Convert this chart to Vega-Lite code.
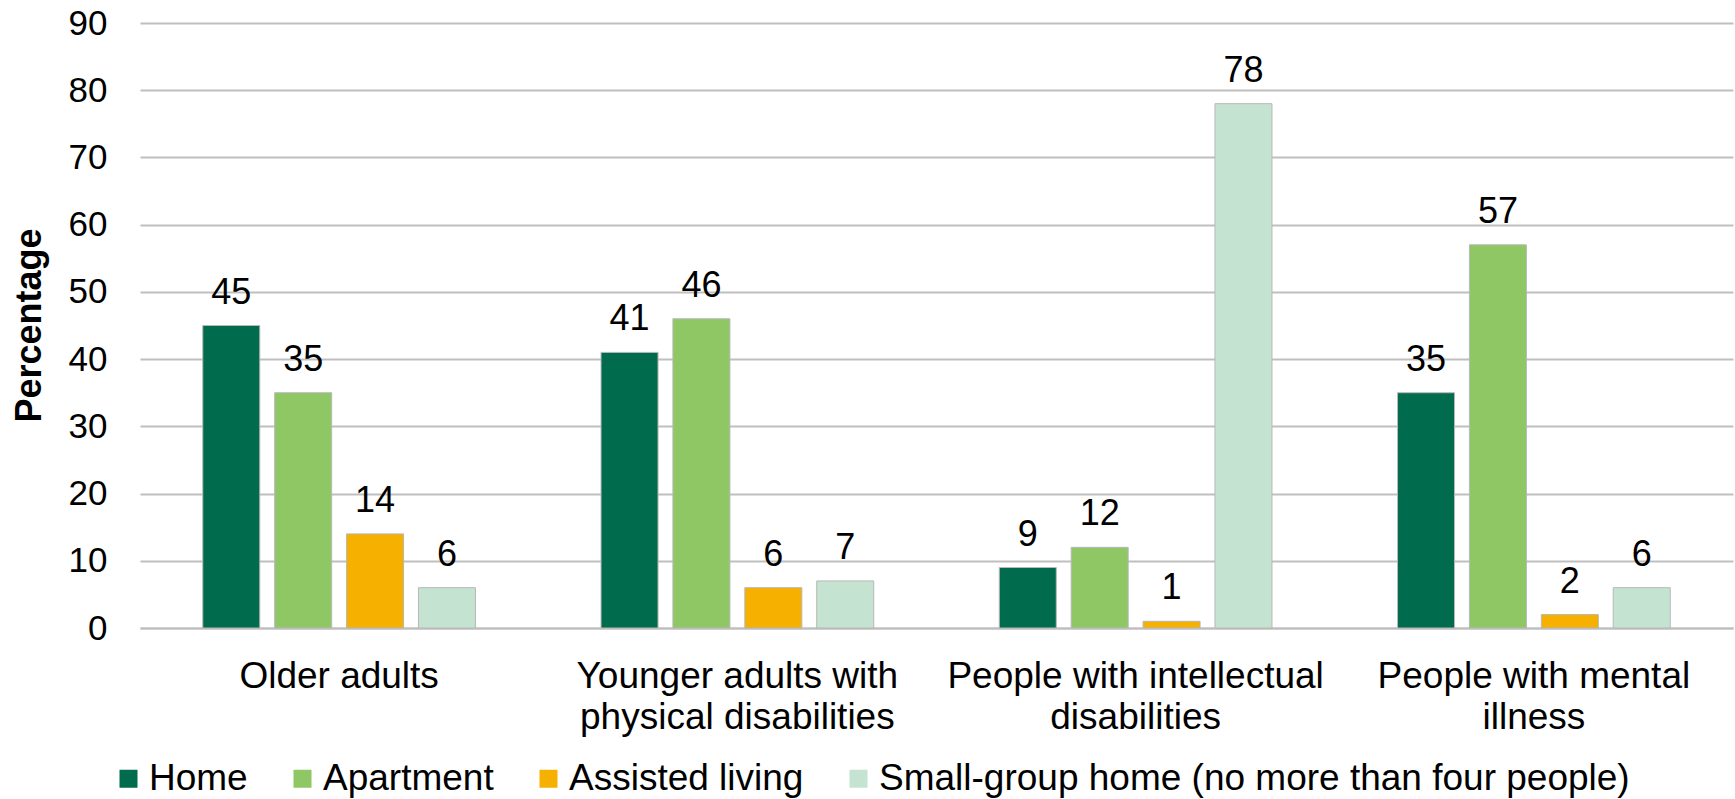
{
  "$schema": "https://vega.github.io/schema/vega-lite/v6.json",
  "width": 1593,
  "height": 605,
  "autosize": {"type": "none"},
  "padding": {"left": 140, "top": 23, "right": 2, "bottom": 171},
  "background": "white",
  "config": {
    "font": "Liberation Sans",
    "view": {"stroke": null},
    "axis": {"labelFont": "Liberation Sans", "labelColor": "#000000"}
  },
  "data": {
    "values": [
      {"group": "Older adults", "type": "Home", "value": 45},
      {"group": "Older adults", "type": "Apartment", "value": 35},
      {"group": "Older adults", "type": "Assisted living", "value": 14},
      {"group": "Older adults", "type": "Small-group home (no more than four people)", "value": 6},
      {"group": "Younger adults with|physical disabilities", "type": "Home", "value": 41},
      {"group": "Younger adults with|physical disabilities", "type": "Apartment", "value": 46},
      {"group": "Younger adults with|physical disabilities", "type": "Assisted living", "value": 6},
      {"group": "Younger adults with|physical disabilities", "type": "Small-group home (no more than four people)", "value": 7},
      {"group": "People with intellectual|disabilities", "type": "Home", "value": 9},
      {"group": "People with intellectual|disabilities", "type": "Apartment", "value": 12},
      {"group": "People with intellectual|disabilities", "type": "Assisted living", "value": 1},
      {"group": "People with intellectual|disabilities", "type": "Small-group home (no more than four people)", "value": 78},
      {"group": "People with mental|illness", "type": "Home", "value": 35},
      {"group": "People with mental|illness", "type": "Apartment", "value": 57},
      {"group": "People with mental|illness", "type": "Assisted living", "value": 2},
      {"group": "People with mental|illness", "type": "Small-group home (no more than four people)", "value": 6}
    ]
  },
  "encoding": {
    "x": {
      "field": "group",
      "type": "nominal",
      "sort": null,
      "scale": {"paddingInner": 0, "paddingOuter": 0},
      "axis": {
        "title": null,
        "labelAngle": 0,
        "labelExpr": "split(datum.label, '|')",
        "labelFontSize": 37,
        "labelLineHeight": 41,
        "labelLimit": 0,
        "labelPadding": 30,
        "labelBaseline": "top",
        "ticks": false,
        "domain": true,
        "domainColor": "#bfbfbf",
        "domainWidth": 2,
        "grid": false
      }
    },
    "xOffset": {
      "field": "type",
      "type": "nominal",
      "sort": ["Home", "Apartment", "Assisted living", "Small-group home (no more than four people)"],
      "scale": {"paddingInner": 0.207, "paddingOuter": 0.873}
    },
    "y": {
      "field": "value",
      "type": "quantitative",
      "scale": {"domain": [0, 90], "nice": false},
      "axis": {
        "title": "Percentage",
        "titleFontSize": 36,
        "titleFontWeight": "bold",
        "titleColor": "#000000",
        "titleAngle": -90,
        "titleX": -111,
        "titleY": 302,
        "titleAlign": "center",
        "titleBaseline": "middle",
        "values": [0, 10, 20, 30, 40, 50, 60, 70, 80, 90],
        "labelFontSize": 35,
        "labelPadding": 33,
        "ticks": false,
        "domain": false,
        "grid": true,
        "gridColor": "#bfbfbf",
        "gridWidth": 2
      }
    }
  },
  "layer": [
    {
      "mark": {"type": "bar", "stroke": "#b8b8b8", "strokeWidth": 1},
      "encoding": {
        "color": {
          "field": "type",
          "type": "nominal",
          "sort": ["Home", "Apartment", "Assisted living", "Small-group home (no more than four people)"],
          "scale": {
            "domain": ["Home", "Apartment", "Assisted living", "Small-group home (no more than four people)"],
            "range": ["#006B4D", "#8FC765", "#F5B000", "#C4E3D0"]
          },
          "legend": {
            "title": null,
            "orient": "none",
            "direction": "horizontal",
            "legendX": -30,
            "legendY": 737,
            "symbolType": "square",
            "symbolSize": 324,
            "symbolStrokeWidth": 0,
            "labelFontSize": 37,
            "labelColor": "#000000",
            "labelOffset": 2,
            "labelLimit": 1000,
            "columnPadding": 36
          }
        }
      }
    },
    {
      "mark": {"type": "text", "baseline": "alphabetic", "dy": -22, "fontSize": 36, "color": "#000000"},
      "encoding": {"text": {"field": "value", "type": "quantitative"}}
    }
  ]
}
